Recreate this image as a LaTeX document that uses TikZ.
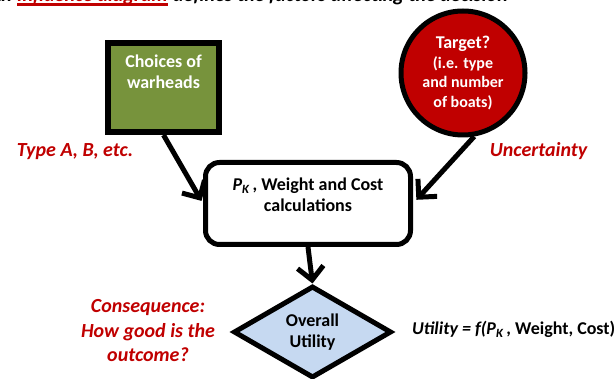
\documentclass[tikz,border=0pt]{standalone}
\usepackage{fontspec}
\setmainfont{Carlito}
\usetikzlibrary{shapes.geometric,arrows.meta}

\definecolor{warhead_green}{HTML}{77933C}
\definecolor{target_red}{HTML}{C00000}
\definecolor{utility_blue}{HTML}{C6D9F1}
\definecolor{label_red}{HTML}{C00000}

\begin{document}
\begin{tikzpicture}[x=1pt, y=-1pt,
		box_text/.style={font=\bfseries\fontsize{18}{21}\selectfont, align=center},
		title_style/.style={inner sep=0pt,font=\bfseries\itshape\fontsize{20}{24}\selectfont},
		decision_style/.style={rectangle,draw=black,line width=6pt,fill=warhead_green,minimum width=111pt,minimum height=89pt,inner sep=0pt},
		chance_style/.style={circle,draw=black,line width=5pt,fill=target_red,minimum size=124pt,inner sep=0pt,text=white,align=center,font=\bfseries\fontsize{16}{19.5}\selectfont},
		calc_style/.style={rectangle,rounded corners=14pt,draw=black,line width=5pt,fill=white,minimum width=205pt,minimum height=82pt},
		utility_style/.style={diamond,aspect=1.75,draw=black,line width=5pt,fill=utility_blue,minimum width=158pt,minimum height=92pt,inner sep=0pt,box_text},
		label_style/.style={text=label_red,align=center,font=\bfseries\itshape\fontsize{20}{24.5}\selectfont},
		edge_style/.style={draw=black,line width=5pt,-{Straight Barb[length=13pt,width=26pt]}}]
		
		\clip (0,0) rectangle (616,379);
		
		% heading, only its lower edge shows
		\node[title_style, anchor=base west, text=label_red] (title_red) at (17,2) {Influence diagram};
		\node[title_style, anchor=base east] (title_a) at ([xshift=-5pt]title_red.base west) {An};
		\node[title_style, anchor=base west] (title_b) at ([xshift=5pt]title_red.base east) {defines the factors affecting the decision};
		\draw[label_red, line width=3pt] ([yshift=-2.3pt]title_red.base west) -- ([yshift=-2.3pt]title_red.base east);
		
		\node[decision_style] (warheads) at (163.5,87.5) {};
		\node[box_text, text=white] (warheads_txt) at (163.5,72) {Choices of\\warheads};
		\node[chance_style] (target) at (463,73)
			{{\fontsize{18}{20}\selectfont Target?}\\(i.e. type\\and number\\of boats)};
		\node[calc_style] (calc) at (308,203.5) {};
		\node[box_text] (calc_txt) at (308,195) {{\itshape P\textsubscript{K}}\,, Weight and Cost\\calculations};
		\node[utility_style] (utility) at (312.5,332) {Overall\\Utility};
		
		\node[label_style, anchor=base] (type_lbl) at (75,157) {Type A, B, etc.};
		\node[label_style, anchor=base] (uncert_lbl) at (538.5,157) {Uncertainty};
		\node[label_style] (conseq_lbl) at (148,331) {Consequence:\\How good is the\\outcome?};
		\node[anchor=base west, inner sep=0pt, font=\bfseries\fontsize{18}{21}\selectfont] (formula) at (412,335)
			{\textit{Utility = f(P\textsubscript{K}}\,, Weight, Cost)};
		
		\draw[edge_style, shorten >=3pt]  (warheads.south) -- (calc.west);
		\draw[edge_style, shorten >=5pt]  (target.-80) -- (calc.east);
		\draw[edge_style]  (calc.south) -- (utility.north);
		
\end{tikzpicture}
\end{document}
